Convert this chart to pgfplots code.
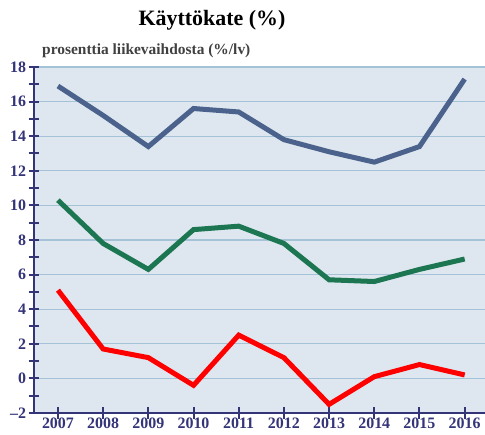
\documentclass[border=0pt]{standalone}
\usepackage{fontspec}
\setmainfont{Liberation Serif}
\usepackage{pgfplots}
\pgfplotsset{compat=1.18}
\definecolor{navy}{RGB}{52,52,120}
\definecolor{plotbg}{RGB}{222,231,239}
\definecolor{gridblue}{RGB}{165,195,215}
\definecolor{serblue}{RGB}{74,98,140}
\definecolor{sergreen}{RGB}{28,118,82}
\definecolor{serred}{RGB}{255,0,0}
\begin{document}
\begin{tikzpicture}[x=1bp,y=1bp]
\path[use as bounding box] (-34bp,-22bp) rectangle (451bp,413bp);
\begin{axis}[
    at={(0,0)}, anchor=south west,
    scale only axis,
    width=451bp, height=346bp,
    xmin=2006.47, xmax=2016.45,
    ymin=-2, ymax=18,
    axis background/.style={fill=plotbg},
    axis x line*=bottom, axis y line*=left,
    axis line style={navy, line width=2.6bp, -},
    xtick={2007,...,2016},
    xticklabels={2007,2008,2009,2010,2011,2012,2013,2014,2015,2016},
    ytick={-2,0,...,18},
    yticklabels={--2,0,2,4,6,8,10,12,14,16,18},
    minor ytick={-1,1,...,17},
    tick align=center,
    major tick length=11bp, minor tick length=11bp,
    every tick/.style={navy, line width=2bp},
    ymajorgrids,
    major grid style={gridblue, line width=1.1bp},
    tick label style={font=\fontsize{16}{16}\selectfont\bfseries, text=navy},
    yticklabel style={xshift=1bp},
    xticklabel style={yshift=1.5bp, inner ysep=1pt},
    clip=false,
]
\addplot[serblue, line width=5bp] coordinates {
    (2007,16.9)(2008,15.2)(2009,13.4)(2010,15.6)(2011,15.4)
    (2012,13.8)(2013,13.1)(2014,12.5)(2015,13.4)(2016,17.3)
};
\addplot[sergreen, line width=5bp] coordinates {
    (2007,10.3)(2008,7.8)(2009,6.3)(2010,8.6)(2011,8.8)
    (2012,7.8)(2013,5.7)(2014,5.6)(2015,6.3)(2016,6.9)
};
\addplot[serred, line width=5bp] coordinates {
    (2007,5.1)(2008,1.7)(2009,1.2)(2010,-0.4)(2011,2.5)
    (2012,1.2)(2013,-1.5)(2014,0.1)(2015,0.8)(2016,0.2)
};
\end{axis}
\node[font=\fontsize{22}{22}\selectfont\bfseries] at (178bp,393bp) {Käyttökate (\%)};
\node[anchor=west, inner sep=0pt, text=black!75, font=\fontsize{15.5}{15.5}\selectfont\bfseries] at (8bp,362bp) {prosenttia liikevaihdosta (\%/lv)};
\end{tikzpicture}
\end{document}
